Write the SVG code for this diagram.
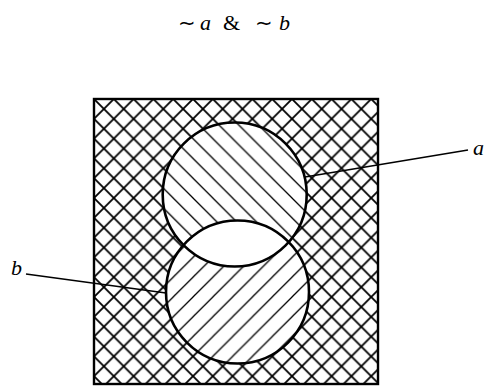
<svg xmlns="http://www.w3.org/2000/svg" width="485" height="388" viewBox="0 0 485 388">
  <style>
    .hatch { stroke: #000; stroke-width: 1.8; fill: none; }
    .thin { stroke: #000; stroke-width: 1.3; fill: none; }
    .edge { stroke: #000; fill: none; }
    .lbl { font-family: "Liberation Serif", "DejaVu Serif", serif; font-size: 22px; fill: #000; }
    .it { font-style: italic; }
    .tl { font-family: "DejaVu Sans", sans-serif; font-size: 21px; }
    .lead { stroke: #000; stroke-width: 1.5; fill: none; }
  </style>
  <defs>
    <pattern id="back" patternUnits="userSpaceOnUse" x="94" y="99" width="19.8" height="19.8">
      <path class="hatch" d="M0,0 L19.8,19.8 M-2,17.8 L2,21.8 M17.8,-2 L21.8,2"/>
    </pattern>
    <pattern id="fwd" patternUnits="userSpaceOnUse" x="94" y="99" width="19.8" height="19.8">
      <path class="hatch" d="M0,19.8 L19.8,0 M-2,2 L2,-2 M17.8,21.8 L21.8,17.8"/>
    </pattern>
    <pattern id="backThin" patternUnits="userSpaceOnUse" x="94" y="99" width="19.8" height="19.8">
      <path class="thin" d="M0,0 L19.8,19.8 M-2,17.8 L2,21.8 M17.8,-2 L21.8,2"/>
    </pattern>
    <pattern id="fwdThin" patternUnits="userSpaceOnUse" x="94" y="99" width="19.8" height="19.8">
      <path class="thin" d="M0,19.8 L19.8,0 M-2,2 L2,-2 M17.8,21.8 L21.8,17.8"/>
    </pattern>
    <clipPath id="clipA">
      <circle cx="234.7" cy="194.5" r="72"/>
    </clipPath>
  </defs>

  <g id="title">
    <text class="lbl" y="30"><tspan x="178" class="tl">∼</tspan><tspan x="200" class="it">a</tspan><tspan x="223">&amp;</tspan><tspan x="255" class="tl">∼</tspan><tspan x="279" class="it">b</tspan></text>
  </g>

  <g id="universe">
    <rect x="94" y="99" width="284" height="285" fill="#fff"/>
    <rect x="94" y="99" width="284" height="285" fill="url(#back)"/>
    <rect x="94" y="99" width="284" height="285" fill="url(#fwd)"/>
  </g>

  <g id="circle-a">
    <circle cx="234.7" cy="194.5" r="72" fill="#fff"/>
    <circle cx="234.7" cy="194.5" r="72" fill="url(#backThin)"/>
  </g>

  <g id="circle-b">
    <circle cx="237.5" cy="292" r="71.5" fill="#fff"/>
    <circle cx="237.5" cy="292" r="71.5" fill="url(#fwdThin)"/>
    <circle cx="237.5" cy="292" r="71.5" fill="#fff" clip-path="url(#clipA)"/>
  </g>

  <g id="outlines">
    <rect class="edge" x="94" y="99" width="284" height="285" stroke-width="2.4"/>
    <circle class="edge" cx="234.7" cy="194.5" r="72" stroke-width="2.6"/>
    <circle class="edge" cx="237.5" cy="292" r="71.5" stroke-width="2.6"/>
  </g>

  <g id="connectors">
    <line class="lead" x1="305" y1="177" x2="468" y2="150"/>
    <line class="lead" x1="26" y1="274" x2="166" y2="293"/>
  </g>

  <g id="label-a">
    <text class="lbl it" x="473" y="155">a</text>
  </g>
  <g id="label-b">
    <text class="lbl it" x="11" y="275">b</text>
  </g>
</svg>
